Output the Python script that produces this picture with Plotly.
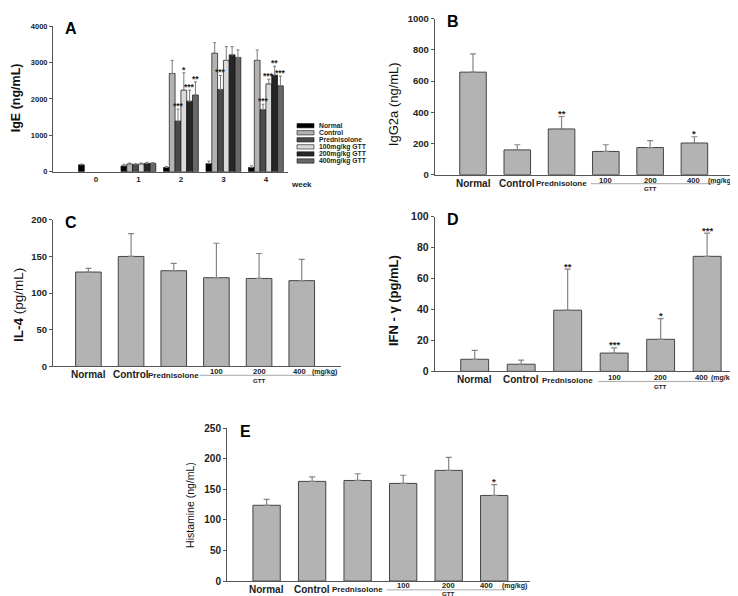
import plotly.graph_objects as go

W, H = 738, 596
FONT = "Liberation Sans, Arial, sans-serif"

# ---- panel A : IgE by week ----
weeks = [0, 1, 2, 3, 4]
week_labels = ["0", "1", "2", "3", "4"]
ige_groups = ["Normal", "Control", "Prednisolone", "100mg/kg GTT", "200mg/kg GTT", "400mg/kg GTT"]
ige_colors = ["#000000", "#b2b2b2", "#4a4a4a", "#dadada", "#262626", "#686868"]
ige_normal = [190, 160, 116, 223, 116]
ige_normal_err = [20, 45, 26, 70, 45]
ige_control = [None, 215, 2698, 3255, 3058]
ige_control_err = [None, 25, 360, 290, 286]
ige_pred = [None, 195, 1390, 2260, 1704]
ige_pred_err = [None, 30, 330, 385, 150]
ige_100 = [None, 215, 2241, 3058, 2412]
ige_100_err = [None, 25, 476, 377, 130]
ige_200 = [None, 230, 1937, 3209, 2654]
ige_200_err = [None, 30, 304, 226, 242]
ige_400 = [None, 230, 2106, 3138, 2358]
ige_400_err = [None, 25, 361, 206, 269]
ige_vals = [ige_normal, ige_control, ige_pred, ige_100, ige_200, ige_400]
ige_errs = [ige_normal_err, ige_control_err, ige_pred_err, ige_100_err, ige_200_err, ige_400_err]
# (week, group index, mark)
ige_sig = [(2, 2, "***"), (2, 3, "*"), (2, 4, "***"), (2, 5, "**"),
           (3, 2, "***"),
           (4, 2, "***"), (4, 3, "***"), (4, 4, "**"), (4, 5, "***")]

# ---- panels B-E ----
groups = ["Normal", "Control", "Prednisolone", "100", "200", "400"]
igg2a = [657, 159, 293, 149, 174, 203]
igg2a_err = [117, 33, 80, 43, 44, 40]
igg2a_sig = ["", "", "**", "", "", "*"]
il4 = [128.7, 150, 130.5, 121, 120, 117]
il4_err = [5, 31, 10, 47, 34, 29]
il4_sig = ["", "", "", "", "", ""]
ifn = [7.8, 4.6, 39.5, 11.8, 20.7, 74.3]
ifn_err = [5.7, 2.6, 26.5, 3.4, 13.3, 15]
ifn_sig = ["", "", "**", "***", "*", "***"]
hist = [123.9, 163, 164.5, 159.7, 181, 140]
hist_err = [9.6, 7.5, 11, 13.3, 21.4, 17.6]
hist_sig = ["", "", "", "", "", "*"]


def px(x):
    return x / W


def py(y):
    return 1 - y / H


fig = go.Figure()
annos = []
shapes = []

# panel layout in pixels: left, right, y of zero, y of max, tick font size
panels = {
    "A": dict(ax="", left=45, right=280, bot=161, top=12.3, xr=[-1.01, 4.52], yr=[0, 4000], dt=1000, tf=7.5),
    "B": dict(ax="2", left=426.7, right=736, bot=164, top=4.7, xr=[-0.865, 6.12], yr=[0, 1000], dt=200, tf=9.5),
    "C": dict(ax="3", left=45, right=333, bot=359.7, top=210, xr=[-0.83, 5.92], yr=[0, 200], dt=50, tf=9.5),
    "D": dict(ax="4", left=426.7, right=734, bot=364.7, top=206.7, xr=[-0.86, 5.75], yr=[0, 100], dt=20, tf=10.5),
    "E": dict(ax="5", left=219, right=521.7, bot=578.7, top=422.7, xr=[-0.87, 5.78], yr=[0, 250], dt=50, tf=10),
}

lay = {}
for name, p in panels.items():
    xa = dict(domain=[px(p["left"]), px(p["right"])], range=p["xr"], showline=True,
              linecolor="#555555", linewidth=1, showgrid=False, zeroline=False,
              ticks="", showticklabels=False, anchor="y" + p["ax"])
    ya = dict(domain=[py(p["bot"]), py(p["top"])], range=p["yr"], showline=True,
              linecolor="#555555", linewidth=1, showgrid=False, zeroline=False,
              ticks="outside", ticklen=3, tickcolor="#555555", dtick=p["dt"],
              tickfont=dict(size=p["tf"], family=FONT, color="#222222", weight="bold"),
              anchor="x" + p["ax"])
    lay["xaxis" + p["ax"]] = xa
    lay["yaxis" + p["ax"]] = ya
    annos.append(dict(text="<b>%s</b>" % name, xref="paper", yref="paper",
                      x=px(p["left"] + 18), y=py(p["top"] + 3), showarrow=False,
                      xanchor="center", yanchor="middle",
                      font=dict(size=16, family=FONT, color="#000000")))

# panel A x ticks
lay["xaxis"].update(showticklabels=True, tickvals=weeks, ticktext=week_labels,
                    tickfont=dict(size=8, family=FONT, color="#222222", weight="bold"))

bw = 0.82 / 6
for i, g in enumerate(ige_groups):
    fig.add_trace(go.Bar(
        x=weeks, y=ige_vals[i], width=bw, offset=-0.41 + i * bw,
        marker=dict(color=ige_colors[i], line=dict(color="#111111", width=0.7)),
        error_y=dict(type="data", array=ige_errs[i], arrayminus=[0] * 5, symmetric=False,
                     color="#7a7a7a", thickness=1, width=1.5),
        name=g, showlegend=False, xaxis="x", yaxis="y"))

for wk, gi, mark in ige_sig:
    top = ige_vals[gi][wk] + ige_errs[gi][wk]
    annos.append(dict(text="<b>%s</b>" % mark, x=wk - 0.41 + (gi + 0.5) * bw, y=top,
                      xref="x", yref="y", showarrow=False, yanchor="bottom", yshift=-4,
                      font=dict(size=8.5, family=FONT, color="#222222")))

# manual legend for panel A
rows = [114, 121.2, 128.4, 135.6, 142.8, 150]
for i, g in enumerate(ige_groups):
    shapes.append(dict(type="rect", xref="paper", yref="paper",
                       x0=px(289), x1=px(306), y0=py(rows[i] - 2.2), y1=py(rows[i] + 2.2),
                       fillcolor=ige_colors[i], line=dict(color="#111111", width=0.6)))
    annos.append(dict(text="<b>%s</b>" % g, xref="paper", yref="paper", x=px(309), y=py(rows[i]),
                      xanchor="left", yanchor="middle", showarrow=False,
                      font=dict(size=6.8, family=FONT, color="#222222")))
annos.append(dict(text="<b>week</b>", xref="paper", yref="paper", x=px(293), y=py(167.5),
                  showarrow=False, font=dict(size=8, family=FONT, color="#222222")))

# panels B-E : name, values, errors, marks, GTT line span, (mg/kg) x, shift of "400",
# offsets below the axis (px) for the dose numbers, the GTT line and the GTT text
others = [
    ("B", igg2a, igg2a_err, igg2a_sig, [2.66, 5.46], 5.6, -1, 6.0, 9.2, 14.5),
    ("C", il4, il4_err, il4_sig, [2.61, 5.8], 5.53, -2, 5.5, 9.0, 14.3),
    ("D", ifn, ifn_err, ifn_sig, [2.66, 5.28], 5.35, -6, 6.5, 10.3, 15.8),
    ("E", hist, hist_err, hist_sig, [2.64, 5.26], 5.45, -8, 4.8, 9.0, 13.2),
]
for name, vals, errs, sig, gtt_span, unit_x, shift400, num_off, line_off, gtt_off in others:
    p = panels[name]
    xn, yn = "x" + p["ax"], "y" + p["ax"]
    xs = list(range(len(groups)))
    fig.add_trace(go.Bar(
        x=xs, y=vals, width=0.6,
        marker=dict(color="#b3b3b3", line=dict(color="#444444", width=1)),
        error_y=dict(type="data", array=errs, arrayminus=[0] * len(errs), symmetric=False,
                     color="#858585", thickness=1.2, width=3),
        showlegend=False, xaxis=xn, yaxis=yn))
    for i, mark in enumerate(sig):
        if mark:
            annos.append(dict(text="<b>%s</b>" % mark, x=i, y=vals[i] + errs[i], xref=xn, yref=yn,
                              showarrow=False, yanchor="bottom", yshift=-4.5,
                              font=dict(size=9.5, family=FONT, color="#222222")))
    for i, g in enumerate(groups):
        if i < 2:
            size, off = 10, 8.5
        elif i == 2:
            size, off = 8, 9
        else:
            size, off = 7.6, num_off
        annos.append(dict(text="<b>%s</b>" % g, x=i, y=py(p["bot"] + off), xref=xn, yref="paper",
                          showarrow=False, yanchor="middle", borderpad=0,
                          xshift=shift400 if i == 5 else 0,
                          font=dict(size=size, family=FONT, color="#222222")))
    annos.append(dict(text="<b>(mg/kg)</b>", x=unit_x, y=py(p["bot"] + num_off), xref=xn, yref="paper",
                      showarrow=False, yanchor="middle", borderpad=0,
                      font=dict(size=7, family=FONT, color="#222222")))
    annos.append(dict(text="<b>GTT</b>", x=4, y=py(p["bot"] + gtt_off), xref=xn, yref="paper",
                      showarrow=False, yanchor="middle", borderpad=0,
                      font=dict(size=6.2, family=FONT, color="#222222")))
    shapes.append(dict(type="line", xref=xn, yref="paper", x0=gtt_span[0], x1=gtt_span[1],
                       y0=py(p["bot"] + line_off), y1=py(p["bot"] + line_off),
                       line=dict(color="#a8a8a8", width=1)))

# y axis titles
ytitles = [
    ("<b>IgE (ng/mL)</b>", 8, 86, 12.5),
    ("IgG2a (ng/mL)", 385, 92, 13),
    ("<b>IL-4</b> (pg/mL)", 10, 297, 13.5),
    ("<b>IFN - γ (pg/mL)</b>", 385, 293, 13),
    ("Histamine (ng/mL)", 182, 501, 10.5),
]
for txt, x, y, s in ytitles:
    annos.append(dict(text=txt, xref="paper", yref="paper", x=px(x), y=py(y), textangle=-90,
                      showarrow=False, xanchor="center", yanchor="middle",
                      font=dict(size=s, family=FONT, color="#111111")))

fig.update_layout(
    width=W, height=H, margin=dict(l=0, r=0, t=0, b=0),
    paper_bgcolor="white", plot_bgcolor="white", barmode="overlay",
    annotations=annos, shapes=shapes, showlegend=False, **lay)

fig.write_html("out.html")
